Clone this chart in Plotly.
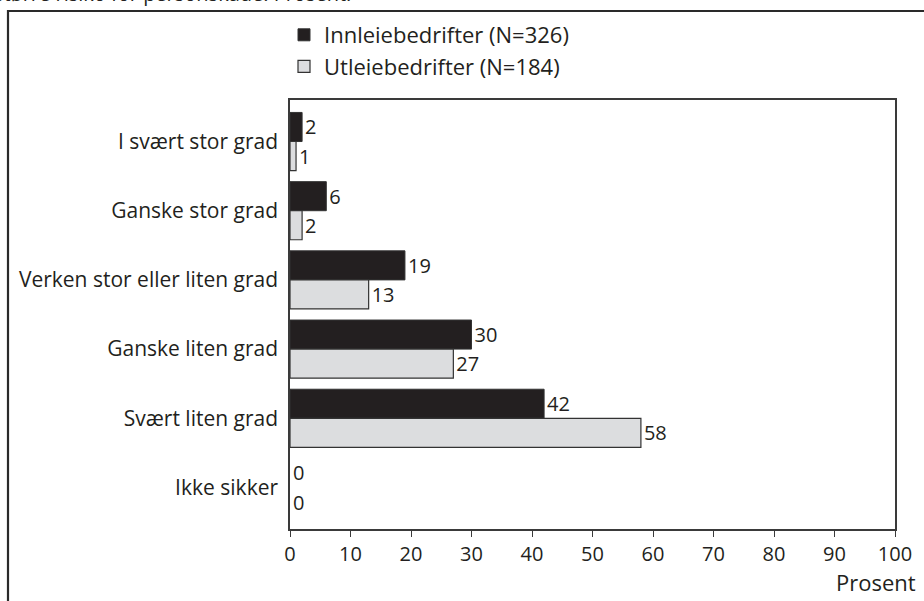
import plotly.graph_objects as go

categories = [
    "I svært stor grad",
    "Ganske stor grad",
    "Verken stor eller liten grad",
    "Ganske liten grad",
    "Svært liten grad",
    "Ikke sikker",
]
innleie = [2, 6, 19, 30, 42, 0]
utleie = [1, 2, 13, 27, 58, 0]
series_names = ["Innleiebedrifter (N=326)", "Utleiebedrifter (N=184)"]
x_ticks = list(range(0, 101, 10))

FONT = "Open Sans"
INK = "#231f20"


def outline(values, width):
    # no outline on empty bars, so a zero value leaves no stroke at the axis
    return [width if v > 0 else 0 for v in values]


fig = go.Figure()
fig.add_trace(go.Bar(
    y=categories, x=innleie, orientation="h", name=series_names[0],
    marker=dict(color=INK, line=dict(color="#333333", width=outline(innleie, 1))),
    text=[str(v) for v in innleie], textposition="outside",
    textfont=dict(family=FONT, size=20, color=INK), cliponaxis=False,
))
fig.add_trace(go.Bar(
    y=categories, x=utleie, orientation="h", name=series_names[1],
    marker=dict(color="#dcdddf", line=dict(color="#333333", width=outline(utleie, 1.2))),
    text=[str(v) for v in utleie], textposition="outside",
    textfont=dict(family=FONT, size=20, color=INK), cliponaxis=False,
))

W, H = 924, 601
L, R, T, B = 290, 29, 100, 72
pw = W - L - R
ph = H - T - B


def px_x(p):
    return (p - L) / pw


def px_y(p):
    return (H - B - p) / ph


fig.update_layout(
    width=W, height=H,
    margin=dict(l=L, r=R, t=T, b=B, pad=0),
    paper_bgcolor="white", plot_bgcolor="white",
    barmode="group", bargap=0.16, bargroupgap=0,
    font=dict(family=FONT, size=20, color=INK),
    showlegend=True,
    legend=dict(
        x=px_x(284), y=px_y(14), xanchor="left", yanchor="top",
        font=dict(family=FONT, size=22, color=INK),
        traceorder="normal", itemwidth=30, tracegroupgap=0,
        bgcolor="rgba(0,0,0,0)",
    ),
    xaxis=dict(
        range=[0, 100], tickvals=x_ticks, ticktext=[str(v) for v in x_ticks],
        showgrid=False, zeroline=False,
        showline=True, linecolor="#3a3a3a", linewidth=1.5, mirror=True,
        ticks="outside", ticklen=6, tickwidth=1.2, tickcolor="#3a3a3a",
        tickfont=dict(family=FONT, size=20, color=INK),
    ),
    yaxis=dict(
        type="category", categoryorder="array", categoryarray=categories,
        range=[5.6, -0.6],
        showgrid=False, zeroline=False,
        showline=True, linecolor="#3a3a3a", linewidth=1.5, mirror=True,
        ticks="", ticklabelstandoff=6,
        tickfont=dict(family=FONT, size=21, color=INK),
    ),
)

# Axis unit label at the lower right
fig.add_annotation(
    x=px_x(918), y=px_y(582), xref="paper", yref="paper",
    text="Prosent", showarrow=False, xanchor="right", yanchor="middle",
    font=dict(family=FONT, size=22, color=INK),
)

# Caption line running off the top edge
fig.add_annotation(
    x=px_x(-8), y=px_y(-6), xref="paper", yref="paper",
    text="større risiko for personskade. Prosent.", showarrow=False,
    xanchor="left", yanchor="middle",
    font=dict(family=FONT, size=20, color=INK),
)

# Outer figure frame
fig.add_shape(
    type="rect", xref="paper", yref="paper",
    x0=px_x(8), x1=px_x(930), y0=px_y(610), y1=px_y(11),
    line=dict(color="#2a2a2a", width=2.2), fillcolor="rgba(0,0,0,0)",
    layer="below",
)

fig.write_html("out.html")
